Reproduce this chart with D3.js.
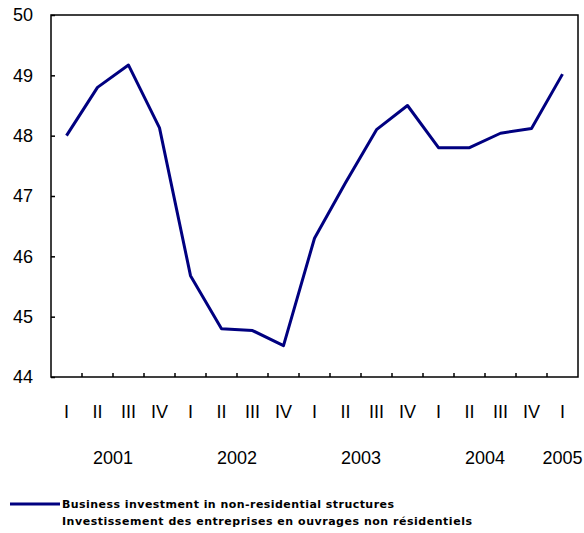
<!DOCTYPE html>
<html>
<head>
<meta charset="utf-8">
<script src="https://cdn.jsdelivr.net/npm/d3@7"></script>
<style>
  body { margin: 0; background: #fff; }
  svg { display: block; }
  .tick-label { font-family: "Liberation Sans", Arial, sans-serif; font-size: 18px; fill: #000; }
  .legend-text { font-family: "DejaVu Sans", Verdana, sans-serif; font-size: 11px; font-weight: bold; fill: #000; }
</style>
</head>
<body>
<div id="chart"></div>
<script>
// data
const years = ["2001", "2002", "2003", "2004", "2005"];
const periods = [
  "2001 I", "2001 II", "2001 III", "2001 IV",
  "2002 I", "2002 II", "2002 III", "2002 IV",
  "2003 I", "2003 II", "2003 III", "2003 IV",
  "2004 I", "2004 II", "2004 III", "2004 IV",
  "2005 I"
];
const values = [
  48.0, 48.8, 49.17, 48.13,
  45.68, 44.8, 44.77, 44.52,
  46.3, 47.22, 48.1, 48.5,
  47.8, 47.8, 48.04, 48.12,
  49.02
];
const yTicks = [44, 45, 46, 47, 48, 49, 50];
const legendLines = [
  "Business investment in non-residential structures",
  "Investissement des entreprises en ouvrages non résidentiels"
];

const width = 584, height = 533;
const margin = { top: 15, right: 6, bottom: 156, left: 51 };
const legendTextWidths = [332, 410];

const svg = d3.select("#chart")
  .append("svg")
  .attr("width", width)
  .attr("height", height);

// scales
const x = d3.scaleBand()
  .domain(periods)
  .range([margin.left, width - margin.right]);

const y = d3.scaleLinear()
  .domain([44, 50])
  .range([height - margin.bottom, margin.top]);

const bottom = height - margin.bottom;

// frame
svg.append("rect")
  .attr("x", margin.left)
  .attr("y", margin.top)
  .attr("width", width - margin.left - margin.right)
  .attr("height", bottom - margin.top)
  .attr("fill", "none")
  .attr("stroke", "#000")
  .attr("stroke-width", 1.5);

// y axis, inward ticks
const yAxis = svg.append("g")
  .attr("transform", `translate(${margin.left},0)`)
  .call(d3.axisLeft(y).tickValues(yTicks).tickSize(-4).tickPadding(18).tickFormat(d3.format("d")));
yAxis.select(".domain").remove();
yAxis.selectAll("line").attr("stroke", "#000").attr("stroke-width", 1.5);
yAxis.selectAll("text").attr("class", "tick-label").attr("font-size", null).attr("font-family", null);

// x ticks between quarters
const bounds = periods.slice(1).map(p => x(p));
svg.append("g")
  .selectAll("line")
  .data(bounds)
  .join("line")
  .attr("x1", d => d).attr("x2", d => d)
  .attr("y1", bottom).attr("y2", bottom - 4)
  .attr("stroke", "#000")
  .attr("stroke-width", 1.5);

// quarter labels
svg.append("g")
  .selectAll("text")
  .data(periods)
  .join("text")
  .attr("class", "tick-label")
  .attr("x", d => x(d) + x.bandwidth() / 2)
  .attr("y", 418)
  .attr("text-anchor", "middle")
  .text(d => d.split(" ")[1]);

// year labels
svg.append("g")
  .selectAll("text")
  .data(years)
  .join("text")
  .attr("class", "tick-label")
  .attr("x", yr => {
    const ps = periods.filter(p => p.startsWith(yr));
    return d3.mean(ps, p => x(p) + x.bandwidth() / 2);
  })
  .attr("y", 464)
  .attr("text-anchor", "middle")
  .text(d => d);

// line
const line = d3.line()
  .x((d, i) => x(periods[i]) + x.bandwidth() / 2)
  .y(d => y(d));

svg.append("path")
  .datum(values)
  .attr("d", line)
  .attr("fill", "none")
  .attr("stroke", "#000080")
  .attr("stroke-width", 3)
  .attr("stroke-linejoin", "round");

// legend
const legend = svg.append("g").attr("transform", "translate(10,504)");
legend.append("line")
  .attr("x1", 0).attr("x2", 50)
  .attr("y1", 0).attr("y2", 0)
  .attr("stroke", "#000080")
  .attr("stroke-width", 3);
legend.selectAll("text")
  .data(legendLines)
  .join("text")
  .attr("class", "legend-text")
  .attr("x", 52)
  .attr("y", (d, i) => 4 + i * 17)
  .attr("textLength", (d, i) => legendTextWidths[i])
  .attr("lengthAdjust", "spacing")
  .text(d => d);
</script>
</body>
</html>
